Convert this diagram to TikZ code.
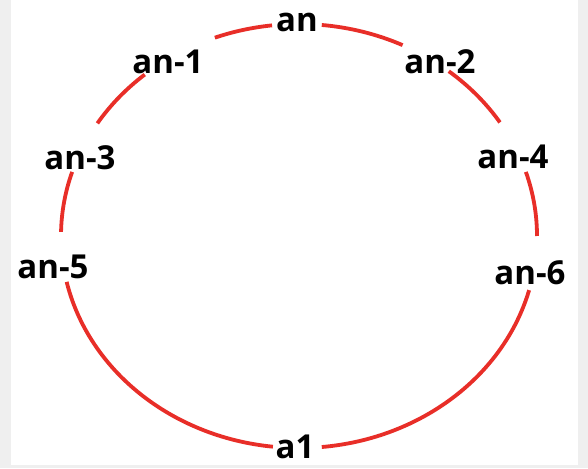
\documentclass[tikz,border=0pt]{standalone}
\usepackage{fontspec}
\setmainfont{Open Sans}
\definecolor{ringred}{RGB}{232,46,40}
\definecolor{edgegray}{RGB}{239,239,239}
\begin{document}
\begin{tikzpicture}[
        x=1pt,
        y=1pt,
        ring/.style={draw=ringred, line width=3.8pt},
        term/.style={inner sep=0pt, font=\fontsize{33}{33}\selectfont\bfseries}
    ]
    \fill [edgegray] (0,0) rectangle (588,468);
    \fill [white] (11,3) rectangle (578,468);
    \useasboundingbox (0,0) rectangle (588,468);

    \coordinate (o) at (299,232);

    % ring, cut open where the terms sit
    \foreach \s/\e in {84.5/64.2, 51/32.4, 17.6/0, -14.8/-84.5,
                       -96.3/-167.5, 178.9/162.4, 147.9/130.4, 110.7/96.5}
        \draw [ring] ([shift={(\s:238 and 212)}]o)
            arc [start angle=\s, end angle=\e, x radius=238, y radius=212];

    \node [term] (an)  at (297,446) {an};
    \node [term] (an1) at (168,406) {an-1};
    \node [term] (an2) at (440,406) {an-2};
    \node [term] (an3) at (80,310)  {an-3};
    \node [term] (an4) at (513,311) {an-4};
    \node [term] (an5) at (53,201)  {an-5};
    \node [term] (an6) at (530,195) {an-6};
    \node [term] (a1)  at (295,21)  {a1};
\end{tikzpicture}
\end{document}
